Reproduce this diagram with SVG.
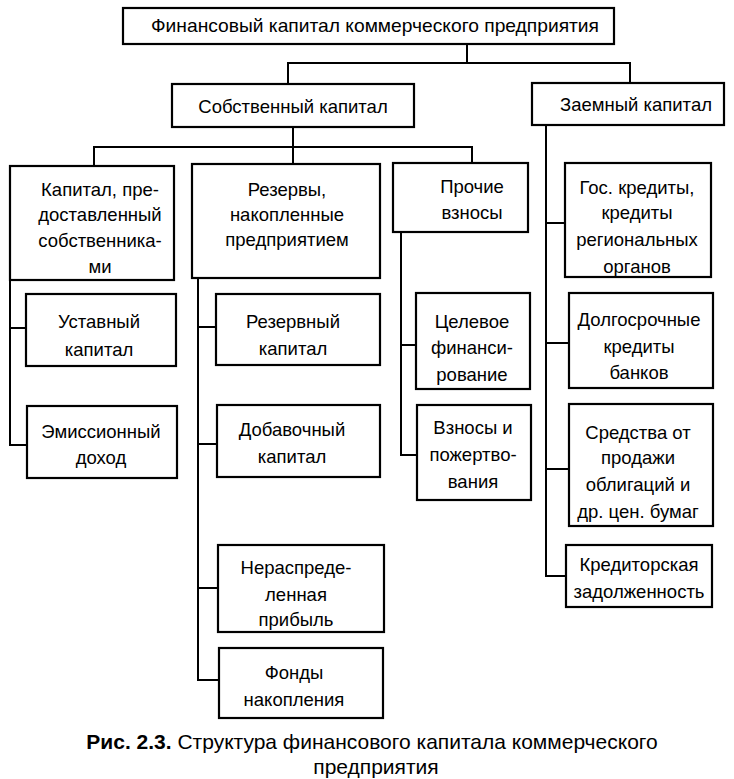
<svg xmlns="http://www.w3.org/2000/svg" width="734" height="779" viewBox="0 0 734 779">
<style>
  .box { fill: #ffffff; stroke: #000000; stroke-width: 2.2; }
  .conn line, .conn polyline { stroke: #000000; stroke-width: 2; fill: none; }
  text { font-family: "Liberation Sans", Arial, sans-serif; font-size: 18.5px; fill: #000000; text-anchor: middle; }
  .cap { font-size: 21px; }
  .b { font-weight: bold; }
</style>
<rect x="0" y="0" width="734" height="779" fill="#ffffff"/>

<g class="conn" id="connectors">
  <line x1="467" y1="44" x2="467" y2="63"/>
  <polyline points="288,84 288,63 630,63 630,83"/>
  <line x1="293" y1="127" x2="293" y2="164"/>
  <polyline points="94,166 94,147 472,147 472,163"/>
  <polyline points="10,280 10,445 27,445"/>
  <line x1="10" y1="328" x2="26" y2="328"/>
  <polyline points="198,278 198,680 219,680"/>
  <line x1="198" y1="327" x2="216" y2="327"/>
  <line x1="198" y1="444" x2="217" y2="444"/>
  <line x1="198" y1="588" x2="218" y2="588"/>
  <polyline points="401,232 401,455 417,455"/>
  <line x1="401" y1="345" x2="416" y2="345"/>
  <polyline points="546,125 546,576 566,576"/>
  <line x1="546" y1="223" x2="565" y2="223"/>
  <line x1="546" y1="343" x2="569" y2="343"/>
  <line x1="546" y1="469" x2="569" y2="469"/>
</g>

<g id="root">
  <rect class="box" x="123" y="8" width="491" height="36"/>
  <text x="375" y="32" textLength="448" lengthAdjust="spacingAndGlyphs">Финансовый капитал коммерческого предприятия</text>
</g>

<g id="own">
  <rect class="box" x="172" y="84" width="242" height="43"/>
  <text x="293" y="113">Собственный капитал</text>
</g>

<g id="borrowed">
  <rect class="box" x="532" y="83" width="192" height="42"/>
  <text x="636" y="111">Заемный капитал</text>
</g>

<g id="owners">
  <rect class="box" x="10" y="166" width="164" height="114"/>
  <text x="100" y="196">Капитал, пре-</text>
  <text x="100" y="221">доставленный</text>
  <text x="100" y="247">собственника-</text>
  <text x="100" y="273">ми</text>
</g>

<g id="reserves">
  <rect class="box" x="192" y="164" width="188" height="114"/>
  <text x="287" y="196">Резервы,</text>
  <text x="287" y="221">накопленные</text>
  <text x="287" y="246">предприятием</text>
</g>

<g id="other">
  <rect class="box" x="393" y="163" width="135" height="69"/>
  <text x="472" y="193">Прочие</text>
  <text x="472" y="219">взносы</text>
</g>

<g id="gov">
  <rect class="box" x="565" y="163" width="146" height="114"/>
  <text x="637" y="194">Гос. кредиты,</text>
  <text x="637" y="219">кредиты</text>
  <text x="637" y="246">региональных</text>
  <text x="637" y="273">органов</text>
</g>

<g id="charter">
  <rect class="box" x="26" y="294" width="150" height="72"/>
  <text x="99" y="328">Уставный</text>
  <text x="99" y="356">капитал</text>
</g>

<g id="emission">
  <rect class="box" x="27" y="406" width="150" height="72"/>
  <text x="101" y="438">Эмиссионный</text>
  <text x="101" y="464">доход</text>
</g>

<g id="reserve-cap">
  <rect class="box" x="216" y="294" width="164" height="71"/>
  <text x="293" y="328">Резервный</text>
  <text x="293" y="355">капитал</text>
</g>

<g id="additional">
  <rect class="box" x="217" y="405" width="163" height="72"/>
  <text x="292" y="436">Добавочный</text>
  <text x="292" y="463">капитал</text>
</g>

<g id="retained">
  <rect class="box" x="218" y="545" width="166" height="87"/>
  <text x="296" y="574">Нераспреде-</text>
  <text x="296" y="601">ленная</text>
  <text x="296" y="626">прибыль</text>
</g>

<g id="funds">
  <rect class="box" x="219" y="648" width="164" height="70"/>
  <text x="294" y="679">Фонды</text>
  <text x="294" y="706">накопления</text>
</g>

<g id="targeted">
  <rect class="box" x="416" y="293" width="114" height="96"/>
  <text x="472" y="328">Целевое</text>
  <text x="472" y="354">финанси-</text>
  <text x="472" y="381">рование</text>
</g>

<g id="donations">
  <rect class="box" x="417" y="405" width="114" height="95"/>
  <text x="473" y="434">Взносы и</text>
  <text x="473" y="461">пожертво-</text>
  <text x="473" y="488">вания</text>
</g>

<g id="longterm">
  <rect class="box" x="569" y="293" width="144" height="95"/>
  <text x="639" y="326">Долгосрочные</text>
  <text x="639" y="353">кредиты</text>
  <text x="639" y="379">банков</text>
</g>

<g id="bonds">
  <rect class="box" x="569" y="404" width="144" height="122"/>
  <text x="638" y="439">Средства от</text>
  <text x="638" y="464">продажи</text>
  <text x="638" y="491">облигаций и</text>
  <text x="638" y="518">др. цен. бумаг</text>
</g>

<g id="payables">
  <rect class="box" x="566" y="545" width="146" height="62"/>
  <text x="639" y="571">Кредиторская</text>
  <text x="639" y="598">задолженность</text>
</g>

<g id="caption">
  <text class="cap" x="372" y="749"><tspan class="b">Рис. 2.3.</tspan> Структура финансового капитала коммерческого</text>
  <text class="cap" x="376" y="774">предприятия</text>
</g>
</svg>
